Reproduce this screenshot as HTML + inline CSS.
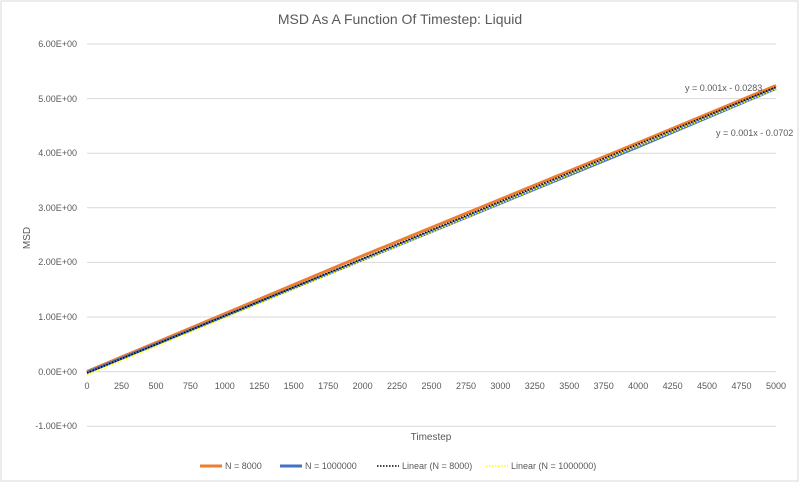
<!DOCTYPE html>
<html><head><meta charset="utf-8"><style>
body{margin:0;background:#fff;}
svg{display:block;font-family:"Liberation Sans",sans-serif;}
</style></head><body>
<svg width="800" height="483" viewBox="0 0 800 483">
<rect x="1" y="1" width="797" height="480" fill="#fff" stroke="#d9d9d9"/>
<text x="400" y="24" text-anchor="middle" font-size="14" fill="#595959">MSD As A Function Of Timestep: Liquid</text>
<g stroke="#d9d9d9" stroke-width="1">
<line x1="87" x2="776" y1="44" y2="44"/>
<line x1="87" x2="776" y1="98.6" y2="98.6"/>
<line x1="87" x2="776" y1="153.2" y2="153.2"/>
<line x1="87" x2="776" y1="207.8" y2="207.8"/>
<line x1="87" x2="776" y1="262.4" y2="262.4"/>
<line x1="87" x2="776" y1="317" y2="317"/>
<line x1="87" x2="776" y1="371.6" y2="371.6"/>
<line x1="87" x2="776" y1="426.2" y2="426.2"/>
</g>
<g font-size="9" fill="#595959" text-anchor="end">
<text x="77" y="47">6.00E+00</text>
<text x="77" y="102">5.00E+00</text>
<text x="77" y="156">4.00E+00</text>
<text x="77" y="211">3.00E+00</text>
<text x="77" y="265">2.00E+00</text>
<text x="77" y="320">1.00E+00</text>
<text x="77" y="375">0.00E+00</text>
<text x="77" y="429">-1.00E+00</text>
</g>
<g font-size="9" fill="#595959" text-anchor="middle">
<text x="87" y="389">0</text><text x="121.5" y="389">250</text><text x="156" y="389">500</text><text x="190.4" y="389">750</text><text x="224.8" y="389">1000</text><text x="259.3" y="389">1250</text><text x="293.7" y="389">1500</text><text x="328.2" y="389">1750</text><text x="362.6" y="389">2000</text><text x="397" y="389">2250</text><text x="431.5" y="389">2500</text><text x="466" y="389">2750</text><text x="500.4" y="389">3000</text><text x="534.8" y="389">3250</text><text x="569.3" y="389">3500</text><text x="603.7" y="389">3750</text><text x="638.2" y="389">4000</text><text x="672.6" y="389">4250</text><text x="707" y="389">4500</text><text x="741.5" y="389">4750</text><text x="776" y="389">5000</text>
</g>
<text x="431" y="440" text-anchor="middle" font-size="10" fill="#595959">Timestep</text>
<text x="30" y="238" text-anchor="middle" font-size="10" fill="#595959" transform="rotate(-90 30 238)">MSD</text>
<polyline points="87,371.5 362,256 640,142 776,85.5" fill="none" stroke="#ed7d31" stroke-width="3"/>
<polyline points="87,372.5 362,260 640,146 776,88.5" fill="none" stroke="#4472c4" stroke-width="3"/>
<line x1="87" y1="373" x2="776" y2="87" stroke="#000" stroke-width="1.5" stroke-dasharray="1.5,1.5"/>
<line x1="87" y1="375" x2="776" y2="89" stroke="#ffff00" stroke-width="1.5" stroke-dasharray="1.5,1.5"/>
<text x="685" y="91" font-size="9" fill="#595959">y = 0.001x - 0.0283</text>
<text x="716" y="136" font-size="9" fill="#595959">y = 0.001x - 0.0702</text>
<g font-size="9" fill="#595959">
<line x1="200" x2="222" y1="466" y2="466" stroke="#ed7d31" stroke-width="3"/><text x="225" y="469">N = 8000</text>
<line x1="280" x2="302" y1="466" y2="466" stroke="#4472c4" stroke-width="3"/><text x="305" y="469">N = 1000000</text>
<line x1="377" x2="399" y1="466" y2="466" stroke="#000" stroke-width="1.5" stroke-dasharray="1.5,1.5"/><text x="402" y="469">Linear (N = 8000)</text>
<line x1="486" x2="508" y1="466" y2="466" stroke="#ffff00" stroke-width="1.5" stroke-dasharray="1.5,1.5"/><text x="511" y="469">Linear (N = 1000000)</text>
</g>
</svg>
</body></html>
